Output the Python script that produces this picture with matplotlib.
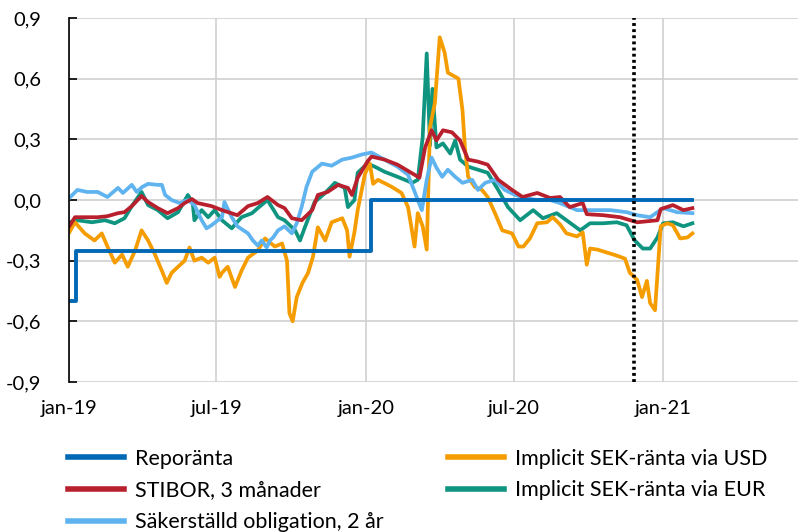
import matplotlib
matplotlib.use("Agg")
import matplotlib.pyplot as plt
import pandas as pd
from matplotlib.lines import Line2D

plt.rcParams['font.family'] = ['Lato', 'DejaVu Sans']

# Reporänta (steg)
repo_dates = ['2019-01-01', '2019-01-09', '2020-01-08', '2021-02-05']
repo_vals = [-0.50, -0.25, 0.00, 0.00]

# STIBOR, 3 månader
stibor_dates = ['2019-01-01', '2019-01-08', '2019-02-05', '2019-02-17', '2019-03-02', '2019-03-10',
                '2019-03-19', '2019-03-31', '2019-04-08', '2019-04-20', '2019-05-02', '2019-05-15',
                '2019-05-23', '2019-06-01', '2019-06-08', '2019-06-25', '2019-07-08', '2019-07-27',
                '2019-08-09', '2019-08-21', '2019-09-02', '2019-09-15', '2019-09-23', '2019-10-02',
                '2019-10-14', '2019-10-27', '2019-11-03', '2019-11-15', '2019-11-28', '2019-12-10',
                '2019-12-15', '2019-12-22', '2020-01-03', '2020-01-08', '2020-01-24', '2020-02-09',
                '2020-03-01', '2020-03-07', '2020-03-14', '2020-03-22', '2020-03-28', '2020-04-05',
                '2020-04-16', '2020-04-26', '2020-05-06', '2020-05-18', '2020-05-30', '2020-06-12',
                '2020-06-29', '2020-07-12', '2020-07-30', '2020-08-15', '2020-08-27', '2020-09-08',
                '2020-09-24', '2020-09-29', '2020-10-19', '2020-11-09', '2020-11-30', '2020-12-25',
                '2020-12-29', '2021-01-13', '2021-01-26', '2021-02-06']
stibor_vals = [-0.13, -0.085, -0.085, -0.08, -0.065, -0.06,
               -0.03, 0.02, -0.01, -0.04, -0.065, -0.04,
               -0.015, 0.005, -0.015, -0.03, -0.05, -0.075,
               -0.03, -0.015, 0.015, -0.025, -0.04, -0.09,
               -0.10, -0.05, 0.025, 0.04, 0.075, 0.06,
               0.025, 0.11, 0.19, 0.215, 0.20, 0.175,
               0.125, 0.11, 0.26, 0.345, 0.295, 0.345,
               0.335, 0.295, 0.20, 0.19, 0.175, 0.10,
               0.05, 0.015, 0.035, 0.01, 0.015, -0.035,
               -0.015, -0.07, -0.075, -0.085, -0.11, -0.10,
               -0.045, -0.025, -0.05, -0.04]

# Säkerställd obligation, 2 år
sak_dates = ['2019-01-01', '2019-01-11', '2019-01-23', '2019-02-05', '2019-02-17', '2019-03-02',
             '2019-03-08', '2019-03-19', '2019-03-25', '2019-04-01', '2019-04-08', '2019-04-20',
             '2019-04-25', '2019-04-29', '2019-05-07', '2019-05-17', '2019-05-27', '2019-06-04',
             '2019-06-13', '2019-06-19', '2019-06-25', '2019-07-03', '2019-07-08', '2019-07-11',
             '2019-07-20', '2019-07-27', '2019-08-09', '2019-08-15', '2019-08-21', '2019-08-26',
             '2019-09-01', '2019-09-05', '2019-09-09', '2019-09-15', '2019-09-23', '2019-10-02',
             '2019-10-08', '2019-10-14', '2019-10-20', '2019-10-27', '2019-11-08', '2019-11-20',
             '2019-12-03', '2019-12-15', '2019-12-27', '2020-01-08', '2020-01-24', '2020-02-09',
             '2020-02-22', '2020-03-05', '2020-03-10', '2020-03-16', '2020-03-22', '2020-03-28',
             '2020-04-04', '2020-04-11', '2020-04-20', '2020-04-29', '2020-05-11', '2020-05-18',
             '2020-05-27', '2020-06-08', '2020-06-20', '2020-07-03', '2020-07-15', '2020-07-30',
             '2020-08-15', '2020-08-27', '2020-09-17', '2020-10-07', '2020-10-28', '2020-11-17',
             '2020-11-30', '2020-12-16', '2021-01-01', '2021-01-18', '2021-02-06']
sak_vals = [0.01, 0.05, 0.04, 0.04, 0.015, 0.06,
            0.035, 0.075, 0.04, 0.065, 0.08, 0.075,
            0.075, 0.025, 0.0, -0.015, 0.0, -0.025,
            -0.10, -0.14, -0.125, -0.10, -0.085, -0.01,
            -0.085, -0.13, -0.165, -0.20, -0.225, -0.20,
            -0.235, -0.20, -0.185, -0.15, -0.13, -0.165,
            -0.115, -0.035, 0.065, 0.14, 0.18, 0.17,
            0.20, 0.21, 0.225, 0.235, 0.20, 0.165,
            0.125, 0.0, -0.05, 0.10, 0.21, 0.16,
            0.115, 0.15, 0.115, 0.085, 0.10, 0.05,
            0.085, 0.10, 0.05, 0.025, 0.01, 0.0,
            0.0, -0.015, -0.05, -0.05, -0.05, -0.06,
            -0.075, -0.085, -0.04, -0.06, -0.065]

# Implicit SEK-ränta via USD
usd_dates = ['2019-01-01', '2019-01-08', '2019-01-20', '2019-02-01', '2019-02-10', '2019-02-17',
             '2019-02-26', '2019-03-07', '2019-03-14', '2019-03-23', '2019-03-31', '2019-04-08',
             '2019-04-16', '2019-04-25', '2019-05-01', '2019-05-07', '2019-05-15', '2019-05-23',
             '2019-05-29', '2019-06-04', '2019-06-13', '2019-06-21', '2019-06-29', '2019-07-05',
             '2019-07-08', '2019-07-15', '2019-07-24', '2019-08-01', '2019-08-09', '2019-08-21',
             '2019-08-30', '2019-09-11', '2019-09-20', '2019-09-26', '2019-09-29', '2019-10-03',
             '2019-10-08', '2019-10-15', '2019-10-22', '2019-10-28', '2019-11-03', '2019-11-12',
             '2019-11-20', '2019-12-03', '2019-12-09', '2019-12-12', '2019-12-18', '2019-12-22',
             '2019-12-31', '2020-01-06', '2020-01-10', '2020-01-16', '2020-02-02', '2020-02-14',
             '2020-02-22', '2020-03-01', '2020-03-05', '2020-03-11', '2020-03-16', '2020-03-20',
             '2020-03-26', '2020-04-01', '2020-04-07', '2020-04-11', '2020-04-20', '2020-04-24',
             '2020-04-29', '2020-05-02', '2020-05-06', '2020-05-14', '2020-05-23', '2020-05-30',
             '2020-06-08', '2020-06-17', '2020-06-29', '2020-07-07', '2020-07-13', '2020-07-21',
             '2020-07-30', '2020-08-11', '2020-08-18', '2020-08-27', '2020-09-04', '2020-09-17',
             '2020-09-24', '2020-09-29', '2020-10-03', '2020-10-12', '2020-10-24', '2020-11-05',
             '2020-11-15', '2020-11-21', '2020-11-30', '2020-12-06', '2020-12-12', '2020-12-16',
             '2020-12-22', '2020-12-29', '2021-01-06', '2021-01-13', '2021-01-22', '2021-01-31',
             '2021-02-06']
usd_vals = [-0.16, -0.11, -0.165, -0.20, -0.165, -0.23,
            -0.31, -0.27, -0.33, -0.25, -0.15, -0.20,
            -0.265, -0.35, -0.41, -0.36, -0.33, -0.30,
            -0.235, -0.30, -0.285, -0.31, -0.285, -0.38,
            -0.36, -0.33, -0.43, -0.35, -0.285, -0.25,
            -0.19, -0.23, -0.215, -0.30, -0.56, -0.60,
            -0.48, -0.41, -0.36, -0.28, -0.135, -0.20,
            -0.11, -0.09, -0.15, -0.28, -0.16, -0.05,
            0.13, 0.18, 0.08, 0.10, 0.065, 0.035,
            -0.035, -0.23, -0.065, -0.13, -0.245, 0.36,
            0.48, 0.805, 0.73, 0.63, 0.61, 0.60,
            0.445, 0.26, 0.115, 0.065, 0.05, 0.015,
            -0.065, -0.15, -0.165, -0.23, -0.23, -0.19,
            -0.115, -0.11, -0.085, -0.12, -0.165, -0.18,
            -0.16, -0.32, -0.24, -0.245, -0.26, -0.275,
            -0.29, -0.36, -0.395, -0.48, -0.40, -0.51,
            -0.545, -0.13, -0.115, -0.125, -0.19, -0.185,
            -0.165]

# Implicit SEK-ränta via EUR
eur_dates = ['2019-01-01', '2019-01-11', '2019-01-29', '2019-02-14', '2019-02-26', '2019-03-10',
             '2019-03-19', '2019-03-31', '2019-04-08', '2019-04-20', '2019-05-02', '2019-05-15',
             '2019-05-27', '2019-06-02', '2019-06-04', '2019-06-13', '2019-06-21', '2019-06-29',
             '2019-07-08', '2019-07-20', '2019-08-01', '2019-08-14', '2019-08-21', '2019-09-02',
             '2019-09-15', '2019-09-23', '2019-10-06', '2019-10-12', '2019-10-18', '2019-10-30',
             '2019-11-12', '2019-11-24', '2019-12-06', '2019-12-10', '2019-12-18', '2019-12-22',
             '2020-01-03', '2020-01-12', '2020-01-24', '2020-02-09', '2020-02-27', '2020-03-05',
             '2020-03-11', '2020-03-16', '2020-03-20', '2020-03-23', '2020-03-28', '2020-04-05',
             '2020-04-14', '2020-04-20', '2020-04-26', '2020-05-06', '2020-05-18', '2020-05-30',
             '2020-06-12', '2020-06-24', '2020-07-09', '2020-07-25', '2020-08-06', '2020-08-23',
             '2020-09-04', '2020-09-21', '2020-10-03', '2020-10-19', '2020-11-05', '2020-11-17',
             '2020-11-27', '2020-12-07', '2020-12-16', '2020-12-25', '2021-01-01', '2021-01-13',
             '2021-01-26', '2021-02-06']
eur_vals = [-0.11, -0.10, -0.11, -0.10, -0.115, -0.09,
            -0.03, 0.04, -0.025, -0.05, -0.09, -0.06,
            0.025, -0.015, -0.10, -0.05, -0.085, -0.05,
            -0.10, -0.14, -0.085, -0.065, -0.04, 0.0,
            -0.085, -0.10, -0.15, -0.20, -0.135, -0.01,
            0.035, 0.085, 0.06, -0.035, 0.0, 0.135,
            0.18, 0.165, 0.14, 0.115, 0.085, 0.10,
            0.31, 0.725, 0.27, 0.55, 0.26, 0.28,
            0.23, 0.295, 0.20, 0.165, 0.15, 0.135,
            0.05, -0.035, -0.10, -0.05, -0.09, -0.065,
            -0.10, -0.15, -0.115, -0.115, -0.11, -0.125,
            -0.20, -0.24, -0.24, -0.185, -0.115, -0.11,
            -0.13, -0.115]

pm_date = '2020-11-26'

fig = plt.figure(figsize=(7.98, 5.32), dpi=100)
ax = fig.add_axes([0.0868, 0.282, 0.9132, 0.684])

blue = '#0068b4'
red = '#b8202e'
light = '#5fb4f0'
orange = '#f59d00'
green = '#0f9480'

ax.plot(pd.to_datetime(eur_dates), eur_vals, color=green, lw=2.7)
ax.plot(pd.to_datetime(usd_dates), usd_vals, color=orange, lw=2.7)
ax.plot(pd.to_datetime(sak_dates), sak_vals, color=light, lw=2.7)
ax.plot(pd.to_datetime(stibor_dates), stibor_vals, color=red, lw=2.7)
ax.plot(pd.to_datetime(repo_dates), repo_vals, color=blue, lw=2.8, drawstyle='steps-post')
ax.axvline(pd.to_datetime(pm_date), color='black', lw=2.6, linestyle=(0, (0.8, 0.9)))

ax.set_xlim(pd.Timestamp('2019-01-01'), pd.Timestamp('2021-06-16'))
ax.set_ylim(-0.9, 0.9)
ax.set_yticks([-0.9, -0.6, -0.3, 0.0, 0.3, 0.6, 0.9])
ax.set_yticklabels(['-0,9', '-0,6', '-0,3', '0,0', '0,3', '0,6', '0,9'])
ticks = pd.date_range('2019-01-01', '2021-01-01', freq='6MS')
ax.set_xticks(ticks)
ax.set_xticklabels([t.strftime('%b-%y').lower() for t in ticks])

ax.grid(True, color='#d0d0d0', lw=1.2)
ax.set_axisbelow(True)
for s in ['top', 'right', 'bottom']:
    ax.spines[s].set_visible(False)
ax.spines['left'].set_linewidth(1.2)
ax.tick_params(axis='y', direction='in', length=6, width=1.2, pad=20, labelsize=14.5)
ax.tick_params(axis='x', length=0, pad=13, labelsize=14.5)

handles = [Line2D([], [], color=blue, lw=4),
           Line2D([], [], color=red, lw=4),
           Line2D([], [], color=light, lw=4),
           Line2D([], [], color=orange, lw=4),
           Line2D([], [], color=green, lw=4)]
labels = ['Reporänta', 'STIBOR, 3 månader', 'Säkerställd obligation, 2 år',
          'Implicit SEK-ränta via USD', 'Implicit SEK-ränta via EUR']
fig.legend(handles, labels, ncol=2, loc='upper left', bbox_to_anchor=(0.074, 0.173),
           frameon=False, fontsize=15.5, handlelength=2.6, labelspacing=0.55,
           columnspacing=2.95, handletextpad=0.55, borderaxespad=0.0)

fig.savefig('out.png', dpi=100)
